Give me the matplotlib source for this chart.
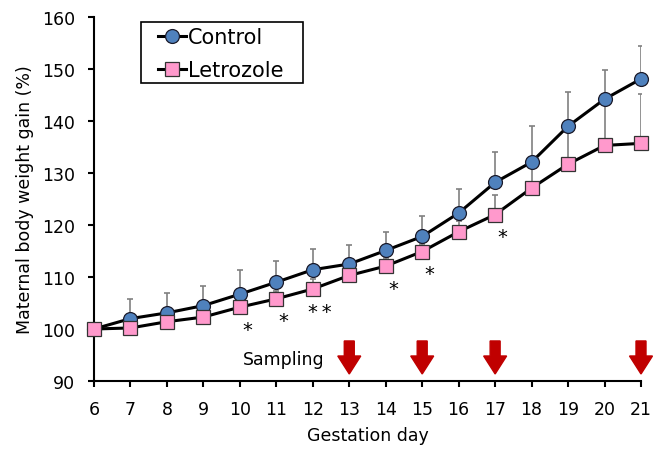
import matplotlib
matplotlib.use("Agg")
import matplotlib.pyplot as plt
from matplotlib.patches import Rectangle
import numpy as np

days = [6, 7, 8, 9, 10, 11, 12, 13, 14, 15, 16, 17, 18, 19, 20, 21]
control = [100.0, 102.0, 103.1, 104.5, 106.7, 109.0, 111.4, 112.5, 115.1, 117.8, 122.3, 128.2, 132.1, 139.0, 144.2, 148.1]
control_err = [0.0, 3.8, 3.8, 3.8, 4.6, 4.1, 4.0, 3.6, 3.6, 4.0, 4.6, 5.8, 7.0, 6.6, 5.6, 6.4]
letrozole = [100.0, 100.2, 101.4, 102.3, 104.2, 105.8, 107.7, 110.3, 112.1, 114.9, 118.7, 122.0, 127.1, 131.7, 135.3, 135.7]
letrozole_err = [0.0, 1.5, 1.5, 1.5, 1.5, 1.5, 2.0, 1.5, 1.5, 1.5, 2.0, 3.8, 6.0, 8.0, 9.5, 9.4]
sig_days = [10, 11, 12, 14, 15, 17]
sig_marks = ["*", "*", "*\u2009*", "*", "*", "*"]
sampling_days = [13, 15, 17, 21]

fig = plt.figure(figsize=(6.53, 4.52), dpi=100)
ax = fig.add_axes([94/653, 1-382/452, (641-94)/653, (382-18)/452])

ecol = "#808080"
ax.errorbar(days, control, yerr=[np.zeros(len(days)), control_err], fmt="none",
            ecolor=ecol, elinewidth=1.2, capsize=2.5, capthick=1.2, zorder=1)
ax.errorbar(days, letrozole, yerr=[np.zeros(len(days)), letrozole_err], fmt="none",
            ecolor=ecol, elinewidth=1.2, capsize=2.5, capthick=1.2, zorder=1)
ax.plot(days, control, color="black", lw=2.2, marker="o", ms=10,
        mfc="#4F81BD", mec="#1a1a2a", mew=0.9, zorder=3, label="Control", clip_on=False)
ax.plot(days, letrozole, color="black", lw=2.2, marker="s", ms=9.5,
        mfc="#FF99CC", mec="#333333", mew=0.9, zorder=4, label="Letrozole", clip_on=False)

lookup = dict(zip(days, letrozole))
for d, m in zip(sig_days, sig_marks):
    ax.text(d + 0.2, lookup[d] - 5.3, m, ha="center", va="baseline", fontsize=14, color="black")

for d in sampling_days:
    ax.arrow(d, 97.7, 0, -(97.7 - 91.35), width=0.274, head_width=0.63, head_length=3.46,
             length_includes_head=True, color="#C00000", clip_on=False, zorder=5)
ax.text(12.31, 94.2, "Sampling", ha="right", va="center", fontsize=12.5)

ax.set_xlim(6, 21)
ax.set_ylim(90, 160)
ax.set_xticks(days)
ax.set_yticks(np.arange(90, 161, 10))
for s in ["top", "right"]:
    ax.spines[s].set_visible(False)
for s in ["left", "bottom"]:
    ax.spines[s].set_linewidth(1.5)
ax.tick_params(direction="out", length=4.5, width=1.5, labelsize=12.5, pad=9, colors="black")
ax.tick_params(axis="x", pad=9)
ax.set_xlabel("Gestation day", fontsize=12.5, labelpad=6)
ax.set_ylabel("Maternal body weight gain (%)", fontsize=12.5, labelpad=6)

leg = ax.legend(loc="upper left", bbox_to_anchor=(158/653, 1-28.5/452), bbox_transform=fig.transFigure,
                frameon=False, fontsize=15, handlelength=1.35, handletextpad=0.1,
                borderpad=0, borderaxespad=0, labelspacing=0.6)
fig.add_artist(Rectangle((140.7/653, 1-84/452), (302.7-140.7)/653, (84-22.7)/452,
                         transform=fig.transFigure, fill=False, edgecolor="black", lw=1.2))

fig.savefig("out.png", dpi=100)
